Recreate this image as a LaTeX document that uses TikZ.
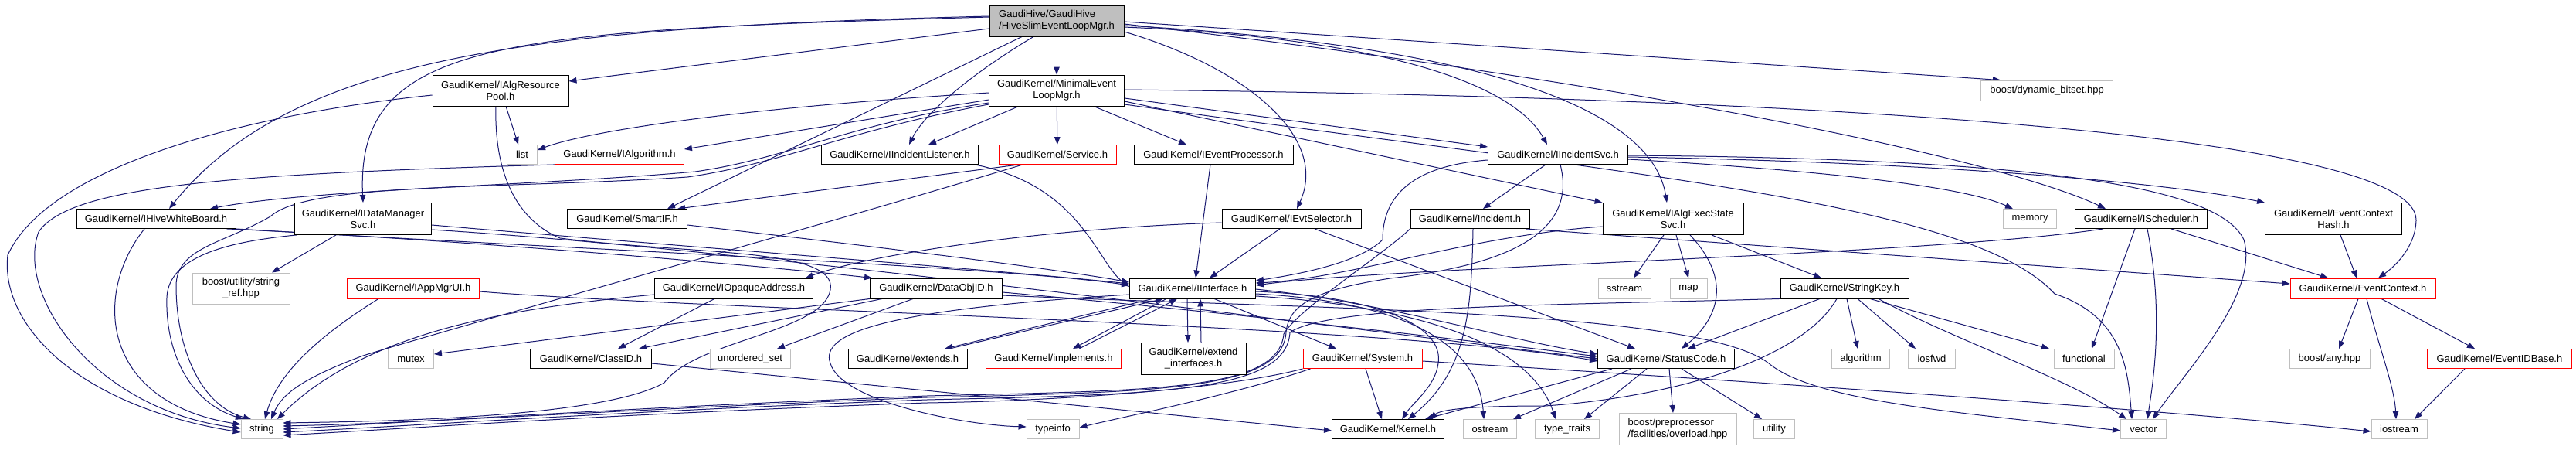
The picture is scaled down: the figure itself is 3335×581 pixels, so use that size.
\documentclass[tikz,border=0pt]{standalone}
\usepackage{fontspec}
\setmainfont{Liberation Sans}
\usetikzlibrary{arrows.meta}
\definecolor{edgec}{HTML}{191970}
\definecolor{grayb}{HTML}{BFBFBF}
\definecolor{redb}{HTML}{FF0000}
\pgfdeclarelayer{bg}
\pgfsetlayers{bg,main}
\newcommand\mynode[7]{\node[#6, minimum width=#4pt, minimum height=#5pt] (#1) at (#2,#3) {#7};}
\begin{document}
\begin{tikzpicture}[x=1pt,y=-1pt,
  boxk/.style={draw=black, line width=0.9pt, inner sep=0pt, align=center, fill=white, font=\fontsize{13}{15}\selectfont},
  boxr/.style={boxk, draw=redb},
  boxg/.style={boxk, draw=grayb},
  boxroot/.style={boxk, fill=grayb, align=left},
  boxgl/.style={boxk, draw=grayb, align=left},
  edg/.style={draw=edgec, line width=1pt, -{Triangle[length=10pt,width=7.5pt]}}]
\useasboundingbox (0,0) rectangle (3335,581);
\begin{pgfonlayer}{bg}
\fill[white] (0,0) rectangle (3335,581);
\end{pgfonlayer}
% ---------------- nodes
\mynode{HS}{1368}{27}{174}{40}{boxroot}{GaudiHive/GaudiHive\\/HiveSlimEventLoopMgr.h}
\mynode{IARP}{648}{117}{176}{40}{boxk}{GaudiKernel/IAlgResource\\Pool.h}
\mynode{MEL}{1368}{117}{175}{40}{boxk}{GaudiKernel/MinimalEvent\\LoopMgr.h}
\mynode{DBS}{2650}{117}{171}{26}{boxg}{boost/dynamic\_bitset.hpp}
\mynode{list}{676}{200}{39}{25}{boxg}{list}
\mynode{IAlg}{802}{200}{167}{25}{boxr}{GaudiKernel/IAlgorithm.h}
\mynode{IIL}{1165}{200}{203}{25}{boxk}{GaudiKernel/IIncidentListener.h}
\mynode{Service}{1369}{200}{152}{25}{boxr}{GaudiKernel/Service.h}
\mynode{IEP}{1571}{200}{206}{25}{boxk}{GaudiKernel/IEventProcessor.h}
\mynode{IISvc}{2017}{200}{181}{25}{boxk}{GaudiKernel/IIncidentSvc.h}
\mynode{IHWB}{202}{283}{206}{25}{boxk}{GaudiKernel/IHiveWhiteBoard.h}
\mynode{IDMS}{470}{283}{177}{41}{boxk}{GaudiKernel/IDataManager\\Svc.h}
\mynode{SmartIF}{812}{283}{155}{25}{boxk}{GaudiKernel/SmartIF.h}
\mynode{IES}{1672}{283}{180}{25}{boxk}{GaudiKernel/IEvtSelector.h}
\mynode{Incident}{1903}{283}{154}{25}{boxk}{GaudiKernel/Incident.h}
\mynode{IAESS}{2166}{283}{182}{41}{boxk}{GaudiKernel/IAlgExecState\\Svc.h}
\mynode{memory}{2628}{283}{69}{25}{boxg}{memory}
\mynode{ISched}{2772}{283}{171}{25}{boxk}{GaudiKernel/IScheduler.h}
\mynode{ECH}{3021}{283}{177}{41}{boxk}{GaudiKernel/EventContext\\Hash.h}
\mynode{sref}{312}{373}{126}{40}{boxg}{boost/utility/string\\\_ref.hpp}
\mynode{IAMUI}{535}{373}{171}{26}{boxr}{GaudiKernel/IAppMgrUI.h}
\mynode{IOA}{950}{373}{205}{26}{boxk}{GaudiKernel/IOpaqueAddress.h}
\mynode{DOID}{1212}{373}{171}{26}{boxk}{GaudiKernel/DataObjID.h}
\mynode{IInt}{1544}{373}{163}{26}{boxk}{GaudiKernel/IInterface.h}
\mynode{sstream}{2103}{373}{68}{26}{boxg}{sstream}
\mynode{map}{2186}{373}{48}{26}{boxg}{map}
\mynode{SKey}{2388}{373}{166}{26}{boxk}{GaudiKernel/StringKey.h}
\mynode{EC}{3059}{373}{188}{26}{boxr}{GaudiKernel/EventContext.h}
\mynode{mutex}{532}{464}{59}{25}{boxg}{mutex}
\mynode{ClassID}{765}{464}{157}{25}{boxk}{GaudiKernel/ClassID.h}
\mynode{uset}{971}{464}{104}{25}{boxg}{unordered\_set}
\mynode{extends}{1175}{464}{154}{25}{boxk}{GaudiKernel/extends.h}
\mynode{impl}{1364}{464}{175}{25}{boxr}{GaudiKernel/implements.h}
\mynode{EI}{1545}{464}{136}{41}{boxk}{GaudiKernel/extend\\\_interfaces.h}
\mynode{System}{1764}{464}{154}{25}{boxr}{GaudiKernel/System.h}
\mynode{SC}{2157}{464}{177}{25}{boxk}{GaudiKernel/StatusCode.h}
\mynode{algorithm}{2409}{464}{75}{25}{boxg}{algorithm}
\mynode{iosfwd}{2501}{464}{61}{25}{boxg}{iosfwd}
\mynode{functional}{2698}{464}{78}{25}{boxg}{functional}
\mynode{bany}{3016}{464}{104}{25}{boxg}{boost/any.hpp}
\mynode{EIDB}{3236}{464}{187}{25}{boxr}{GaudiKernel/EventIDBase.h}
\mynode{string}{339}{555}{54}{25}{boxg}{string}
\mynode{typeinfo}{1363}{555}{68}{25}{boxg}{typeinfo}
\mynode{Kernel}{1797}{555}{145}{25}{boxk}{GaudiKernel/Kernel.h}
\mynode{ostream}{1929}{555}{69}{25}{boxg}{ostream}
\mynode{ttraits}{2029}{555}{83}{25}{boxg}{type\_traits}
\mynode{overload}{2172}{555}{152}{41}{boxgl}{boost/preprocessor\\/facilities/overload.hpp}
\mynode{utility}{2297}{555}{53}{25}{boxg}{utility}
\mynode{vector}{2775}{555}{59}{25}{boxg}{vector}
\mynode{iostream}{3106}{555}{72}{25}{boxg}{iostream}
% ---------------- edges
\begin{pgfonlayer}{bg}
% HiveSlimEventLoopMgr
\draw[edg] (HS) -- (MEL);
\draw[edg] ([yshift=-10pt]HS.west) -- ([yshift=12pt]IARP.east);
\draw[edg] ([yshift=6pt]HS.west) .. controls (700,35) and (380,70) .. ([xshift=17pt]IHWB.north);
\draw[edg] ([yshift=5pt]HS.west) .. controls (650,40) and (460,50) .. (IDMS.north);
\draw[edg] ([xshift=-30pt]HS.south) .. controls (1250,100) and (1195,150) .. ([xshift=12pt]IIL.north);
\draw[edg] ([xshift=-45pt]HS.south) -- ([xshift=52pt]SmartIF.north);
\draw[edg] ([yshift=-14pt]HS.east) .. controls (1620,90) and (1720,180) .. ([xshift=7pt]IES.north);
\draw[edg] ([yshift=-8pt]HS.east) .. controls (1800,50) and (1960,110) .. ([xshift=-14pt]IISvc.north);
\draw[edg] ([yshift=-6pt]HS.east) .. controls (1950,60) and (2140,150) .. ([xshift=-8pt]IAESS.north);
\draw[edg] ([yshift=-1pt]HS.east) -- ([xshift=-60pt]DBS.north);
\draw[edg] ([yshift=-4pt]HS.east) .. controls (2150,110) and (2600,210) .. ([xshift=-46pt]ISched.north);
% MinimalEventLoopMgr
\draw[edg] (MEL) -- (Service);
\draw[edg] ([xshift=48pt]MEL.south) -- ([xshift=-35pt]IEP.north);
\draw[edg] ([xshift=-49pt]MEL.south) -- ([xshift=37pt]IIL.north);
\draw[edg] ([yshift=-12pt]MEL.west) -- ([yshift=7pt]IAlg.east);
\draw[edg] ([yshift=-3pt]MEL.west) .. controls (950,140) and (760,170) .. ([yshift=6pt]list.east);
\draw[edg] ([yshift=-16pt]MEL.west) .. controls (1100,160) and (1020,205) .. (900,222) .. controls (700,240) and (400,245) .. ([xshift=70pt]IHWB.north);
\draw[edg] ([yshift=-18pt]MEL.west) .. controls (1100,168) and (1010,212) .. (890,229) .. controls (650,245) and (400,235) .. (350,280) .. controls (290,315) and (228,320) .. (228,370) .. controls (228,450) and (260,525) .. ([xshift=-14pt]string.north);
\draw[edg] ([yshift=-10pt]MEL.east) -- ([yshift=10pt]IISvc.west);
\draw[edg] ([yshift=-14pt]MEL.east) -- (IAESS.north west);
\draw[edg] ([yshift=-18pt]MEL.east) .. controls (2100,225) and (2550,260) .. (2660,380) .. controls (2750,410) and (2755,480) .. ([xshift=-15pt]vector.north);
\draw[edg] ([yshift=1pt]MEL.east) .. controls (2300,125) and (3130,170) .. (3128,285) .. controls (3127,320) and (3100,345) .. ([xshift=20pt]EC.north);
% Service, IEventProcessor, IIncidentListener
\draw[edg] ([xshift=-50pt]Service.south) -- ([xshift=65pt]SmartIF.north);
\draw[edg] ([xshift=-45pt]Service.south) .. controls (1000,310) and (600,420) .. (470,460) .. controls (390,490) and (365,510) .. ([xshift=12pt]string.north);
\draw[edg] ([xshift=-4pt]IEP.south) -- ([xshift=4pt]IInt.north);
\draw[edg] ([xshift=-5pt]IIL.south east) .. controls (1400,240) and (1420,340) .. ([yshift=2pt]IInt.west);
% IAlgResourcePool, IAlgorithm
\draw[edg] ([xshift=7pt]IARP.south) -- ([xshift=-5pt]list.north);
\draw[edg] ([yshift=-6pt]IARP.west) .. controls (300,150) and (60,220) .. (10,330) .. controls (0,420) and (100,525) .. ([yshift=-4pt]string.west);
\draw[edg] ([xshift=-6pt]IARP.south) .. controls (640,210) and (660,280) .. (725,308) .. controls (900,330) and (1085,320) .. (1075,375) .. controls (1065,430) and (900,440) .. (860,495) .. controls (780,540) and (500,545) .. ([yshift=8pt]string.east);
\draw[edg] (IAlg.south west) .. controls (300,225) and (90,240) .. (50,300) .. controls (20,380) and (120,530) .. ([yshift=1pt]string.west);
% IIncidentSvc
\draw[edg] ([xshift=-16pt]IISvc.south) -- ([xshift=17pt]Incident.north);
\draw[edg] ([yshift=-7pt]IISvc.west) .. controls (1820,215) and (1790,260) .. (1790,310) .. controls (1760,340) and (1680,355) .. ([yshift=10pt]IInt.east);
\draw[edg] ([xshift=3pt]IISvc.south) .. controls (2045,310) and (1930,345) .. (1800,360) .. controls (1700,375) and (1668,395) .. (1665,430) .. controls (1660,505) and (1500,507) .. (1200,514) .. controls (800,530) and (550,547) .. ([yshift=4pt]string.east);
\draw[edg] ([yshift=-1pt]IISvc.east) .. controls (2600,205) and (2870,235) .. (2905,310) .. controls (2925,380) and (2830,480) .. ([xshift=12pt]vector.north);
\draw[edg] ([yshift=-6pt]IISvc.east) .. controls (2350,220) and (2540,240) .. ([xshift=-22pt]memory.north);
\draw[edg] ([yshift=-3pt]IISvc.east) .. controls (2500,210) and (2800,235) .. (ECH.north west);
% IHiveWhiteBoard
\draw[edg] ([xshift=-15pt]IHWB.south) .. controls (120,380) and (130,520) .. ([yshift=6pt]string.west);
\draw[edg] ([xshift=-12pt]IHWB.south east) .. controls (600,310) and (1000,345) .. ([xshift=3pt]DOID.north west);
\draw[edg] (IHWB.south east) .. controls (700,320) and (1300,345) .. ([yshift=4pt]IInt.west);
% IDataManagerSvc
\draw[edg] ([xshift=-35pt]IDMS.south) -- ([xshift=40pt]sref.north);
\draw[edg] ([xshift=-86pt]IDMS.south) .. controls (300,312) and (218,330) .. (216,385) .. controls (214,455) and (245,520) .. ([xshift=-24pt]string.north);
\draw[edg] ([yshift=-8pt]IDMS.east) .. controls (900,320) and (1300,350) .. ([yshift=6pt]IInt.west);
\draw[edg] ([yshift=-14pt]IDMS.east) .. controls (1000,325) and (1700,420) .. (SC.west);
% SmartIF
\draw[edg] ([yshift=-8pt]SmartIF.east) .. controls (1100,315) and (1350,345) .. ([yshift=8pt]IInt.west);
% IEvtSelector
\draw[edg] ([xshift=-15pt]IES.south) -- ([xshift=22pt]IInt.north);
\draw[edg] ([xshift=30pt]IES.south) -- ([xshift=-40pt]SC.north);
\draw[edg] ([yshift=-5pt]IES.west) .. controls (1350,295) and (1120,330) .. ([xshift=-10pt]IOA.north east);
% Incident
\draw[edg] ([xshift=4pt]Incident.south) .. controls (1905,400) and (1900,480) .. ([xshift=26pt]Kernel.north);
\draw[edg] ([xshift=-5pt]Incident.south east) -- ([yshift=6pt]EC.west);
\draw[edg] (Incident.south west) .. controls (1790,330) and (1680,400) .. (1662,432) .. controls (1655,505) and (1500,505) .. (1200,512) .. controls (800,528) and (550,545) .. (string.east);
% IAlgExecStateSvc
\draw[edg] ([xshift=-12pt]IAESS.south) -- ([xshift=12pt]sstream.north);
\draw[edg] ([xshift=4pt]IAESS.south) -- (map.north);
\draw[edg] ([xshift=50pt]IAESS.south) -- ([xshift=-30pt]SKey.north);
\draw[edg] ([xshift=22pt]IAESS.south) .. controls (2250,370) and (2215,420) .. ([xshift=20pt]SC.north);
\draw[edg] ([yshift=-10pt]IAESS.west) .. controls (1900,305) and (1750,360) .. ([yshift=7pt]IInt.east);
% IScheduler
\draw[edg] ([xshift=-8pt]ISched.south) -- ([xshift=10pt]functional.north);
\draw[edg] ([xshift=8pt]ISched.south) .. controls (2800,400) and (2790,480) .. ([xshift=5pt]vector.north);
\draw[edg] ([xshift=39pt]ISched.south) -- ([xshift=-45pt]EC.north);
\draw[edg] ([xshift=-49pt]ISched.south) .. controls (2500,330) and (1800,345) .. ([yshift=4pt]IInt.east);
% EventContext family
\draw[edg] ([xshift=9pt]ECH.south) -- ([xshift=-8pt]EC.north);
\draw[edg] ([xshift=-6pt]EC.south) -- ([xshift=12pt]bany.north);
\draw[edg] ([xshift=5pt]EC.south) .. controls (3080,450) and (3100,500) .. ([xshift=-4pt]iostream.north);
\draw[edg] ([xshift=24pt]EC.south) -- ([xshift=-32pt]EIDB.north);
\draw[edg] ([xshift=-45pt]EIDB.south) -- ([xshift=20pt]iostream.north);
% IAppMgrUI
\draw[edg] ([xshift=-45pt]IAMUI.south) .. controls (420,430) and (360,480) .. ([xshift=4pt]string.north);
\draw[edg] ([yshift=-4pt]IAMUI.east) .. controls (900,400) and (1800,420) .. ([yshift=-3pt]SC.west);
% IOpaqueAddress, ClassID
\draw[edg] ([xshift=-25pt]IOA.south) -- ([xshift=35pt]ClassID.north);
\draw[edg] ([yshift=-8pt]IOA.west) .. controls (700,395) and (480,420) .. ([xshift=20pt]string.north);
\draw[edg] ([yshift=-6pt]ClassID.east) -- ([yshift=-2pt]Kernel.west);
% DataObjID
\draw[edg] ([xshift=-30pt]DOID.south) -- ([xshift=35pt]uset.north);
\draw[edg] ([xshift=-70pt]DOID.south) -- ([xshift=62pt]ClassID.north);
\draw[edg] (DOID.south west) -- ([yshift=6pt]mutex.east);
\draw[edg] ([yshift=-5pt]DOID.east) .. controls (1600,405) and (1900,440) .. ([yshift=3pt]SC.west);
\draw[edg] ([yshift=-9pt]DOID.east) .. controls (1700,400) and (2200,400) .. (2290,470) .. controls (2350,520) and (2550,535) .. ([yshift=-2pt]vector.west);
% IInterface
\draw[edg] ([xshift=-52pt]IInt.south) -- ([xshift=48pt]extends.north);
\draw[edg] ([xshift=54pt]extends.north) -- ([xshift=-38pt]IInt.south);
\draw[edg] ([xshift=-34pt]IInt.south) -- ([xshift=25pt]impl.north);
\draw[edg] ([xshift=33pt]impl.north) -- ([xshift=-20pt]IInt.south);
\draw[edg] ([xshift=-7pt]IInt.south) -- ([xshift=-7pt]EI.north);
\draw[edg] ([xshift=10pt]EI.north) -- ([xshift=10pt]IInt.south);
\draw[edg] ([xshift=28pt]IInt.south) -- ([xshift=-34pt]System.north);
\draw[edg] ([yshift=-1pt]IInt.east) .. controls (1800,392) and (1950,440) .. ([yshift=6pt]SC.west);
\draw[edg] ([yshift=-4pt]IInt.east) .. controls (1780,383) and (1870,420) .. (1862,470) .. controls (1858,500) and (1830,520) .. ([xshift=18pt]Kernel.north);
\draw[edg] ([yshift=-7pt]IInt.east) .. controls (1850,392) and (1915,460) .. ([xshift=-8pt]ostream.north);
\draw[edg] ([yshift=-10pt]IInt.east) .. controls (1900,400) and (1990,470) .. ([xshift=-15pt]ttraits.north);
\draw[edg] ([yshift=-8pt]IInt.west) .. controls (1150,400) and (1060,430) .. (1075,470) .. controls (1090,520) and (1250,550) .. ([yshift=3pt]typeinfo.west);
% System
\draw[edg] ([xshift=4pt]System.south) -- ([xshift=-8pt]Kernel.north);
\draw[edg] ([xshift=10pt]System.south west) .. controls (1600,510) and (1450,540) .. ([yshift=2pt]typeinfo.east);
\draw[edg] (System.south west) .. controls (1600,500) and (1400,518) .. (1200,521) .. controls (800,535) and (550,553) .. ([yshift=-8pt]string.east);
\draw[edg] ([yshift=-3pt]System.east) .. controls (2300,495) and (2800,530) .. ([yshift=-3pt]iostream.west);
% StatusCode
\draw[edg] ([xshift=-70pt]SC.south) -- ([xshift=48pt]Kernel.north);
\draw[edg] ([xshift=-45pt]SC.south) -- ([xshift=30pt]ostream.north);
\draw[edg] ([xshift=-25pt]SC.south) -- ([xshift=22pt]ttraits.north);
\draw[edg] ([xshift=4pt]SC.south) -- ([xshift=-6pt]overload.north);
\draw[edg] ([xshift=20pt]SC.south) -- ([xshift=-16pt]utility.north);
% StringKey
\draw[edg] ([xshift=-32pt]SKey.south) -- ([xshift=28pt]SC.north);
\draw[edg] ([xshift=-10pt]SKey.south) .. controls (2330,470) and (2150,515) .. (2000,525) .. controls (1900,525) and (1865,530) .. ([xshift=54pt]Kernel.north);
\draw[edg] ([xshift=3pt]SKey.south) -- ([xshift=-4pt]algorithm.north);
\draw[edg] ([xshift=17pt]SKey.south) -- ([xshift=-21pt]iosfwd.north);
\draw[edg] ([xshift=33pt]SKey.south) -- ([xshift=-45pt]functional.north);
\draw[edg] ([xshift=44pt]SKey.south) .. controls (2530,440) and (2680,490) .. ([xshift=-22pt]vector.north);
\draw[edg] (SKey.south west) .. controls (2000,395) and (1720,395) .. (1670,430) .. controls (1665,508) and (1500,510) .. (1200,517) .. controls (800,532) and (550,550) .. ([yshift=-4pt]string.east);
\end{pgfonlayer}
\end{tikzpicture}
\end{document}
